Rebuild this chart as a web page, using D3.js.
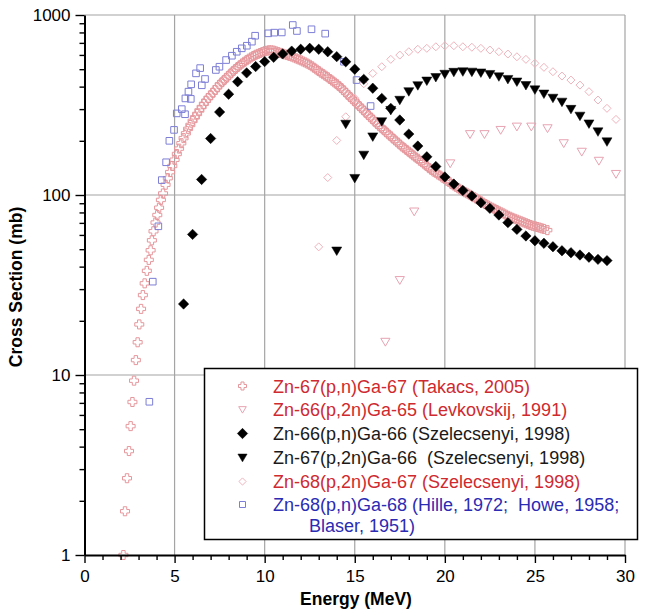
<!DOCTYPE html>
<html><head><meta charset="utf-8">
<script src="https://cdn.jsdelivr.net/npm/d3@7"></script>
<style>body{margin:0;background:#fff}svg{display:block}text{font-family:"Liberation Sans",Arial,Helvetica,sans-serif}</style>
</head><body><svg id="c" width="651" height="616"></svg>
<script>
// ---------- data ----------
const xTicks = [0, 5, 10, 15, 20, 25, 30];
const yTicks = [1, 10, 100, 1000];

// Zn-67(p,n)Ga-67 (Takacs, 2005)
const takacsE = [2.16,2.25,2.36,2.47,2.56,2.66,2.75,2.85,2.95,3.04,3.14,3.24,3.34,3.46,3.57,3.67,3.74,3.83,3.94,4.04,4.14,4.24,4.36,
 4.5,4.625,4.75,4.875,5.0,5.125,5.25,5.375,5.5,5.625,5.75,5.875,6.0,6.125,6.25,6.375,6.5,6.625,6.75,6.875,
 7.0,7.125,7.25,7.375,7.5,7.625,7.75,7.875,8.0,8.125,8.25,8.375,8.5,8.625,8.75,8.875,
 9.0,9.125,9.25,9.375,9.5,9.625,9.75,9.875,10.0,10.125,10.25,10.375,10.5,10.625,10.75,10.875,
 11.0,11.125,11.25,11.375,11.5,11.625,11.75,11.875,12.0,12.125,12.25,12.375,12.5,12.625,12.75,12.875,
 13.0,13.125,13.25,13.375,13.5,13.625,13.75,13.875,14.0,14.125,14.25,14.375,14.5,14.625,14.75,14.875,
 15.0,15.125,15.25,15.375,15.5,15.625,15.75,15.875,16.0,16.125,16.25,16.375,16.5,16.625,16.75,16.875,
 17.0,17.125,17.25,17.375,17.5,17.625,17.75,17.875,18.0,18.125,18.25,18.375,18.5,18.625,18.75,18.875,
 19.0,19.125,19.25,19.375,19.5,19.625,19.75,19.875,20.0,20.125,20.25,20.375,20.5,20.625,20.75,20.875,
 21.0,21.125,21.25,21.375,21.5,21.625,21.75,21.875,22.0,22.125,22.25,22.375,22.5,22.625,22.75,22.875,
 23.0,23.125,23.25,23.375,23.5,23.625,23.75,23.875,24.0,24.125,24.25,24.375,24.5,24.625,24.75,24.875,
 25.0,25.125,25.25,25.375,25.5,25.69];
const takacsV = [1.0,1.75,2.67,3.78,5.2,7.08,9.3,12.1,15.2,19.1,23.3,27.8,32.3,37.9,43.6,49.3,56,62.9,70.3,77.4,85,93.9,102,
 114,124,134,145,157,169,181,194,207,220,233,245,258,270,282,295,308,321,334,346,
 358,370,383,397,411,423,435,448,461,474,488,501,514,526,538,550,
 561,572,582,592,601,608,615,622,629,633,637,636,634,628,622,616,
 610,604,599,593,588,581,574,567,560,552,545,537,529,519,509,498,
 488,478,469,460,451,441,432,422,413,403,393,382,371,360,350,340,
 331,321,312,303,295,286,278,270,263,255,248,241,235,229,223,217,
 212,206,201,196,191,186,182,178,174,170,166,162,159,155,152,148,
 145,141,138,135,133,130,128,125,123,120,118,115,113,111,109,107,
 105,103.5,102,100.5,99,97.2,95.5,93.9,92.3,90.6,89,87.6,86.2,85,83.8,82.5,
 81.2,80.1,79,77.8,76.7,75.7,74.7,73.8,73,72.1,71.3,70.5,69.7,68.9,68.1,67.5,
 67,66.4,65.9,65.3,64.8,63.8];

// Zn-66(p,2n)Ga-65 (Levkovskij, 1991)
const levE = [16.7,17.5,18.3,20.3,21.4,22.2,23.1,24.0,24.8,25.7,26.6,27.6,28.55,29.5];
const levV = [15.3,33.7,81,150,218,218,230,240,240,235,194,174,155,131];

// Zn-66(p,n)Ga-66 (Szelecsenyi, 1998)
const sz66E = [5.5,6,6.5,7,7.5,8,8.5,9,9.5,10,10.5,11,11.5,12,12.5,13,13.5,14,14.5,15,15.5,16,16.5,17,17.5,18,18.5,19,19.5,20,
 20.5,21,21.5,22,22.5,23,23.5,24,24.5,25,25.5,26,26.5,27,27.5,28,28.5,29];
const sz66V = [24.8,60.4,122,206,289,363,426,477,517,551,582,608,630,645,653,645,625,587,550,500,439,392,344,303,261,218,187,163,144,126,
 115,106,98.7,90.6,84.3,77.4,70.2,64.4,59.2,55.7,53.9,51.6,49,47.8,46.4,45.1,43.9,43.2];

// Zn-67(p,2n)Ga-66 (Szelecsenyi, 1998)
const sz67E = [14,14.5,15,15.5,16,16.5,17,17.5,18,18.5,19,19.5,20,20.5,21,21.5,22,22.5,23,23.5,24,24.5,25,25.5,26,26.5,27,27.5,28,28.5,29];
const sz67V = [49,248,124,167,211,256,296,337,376,406,431,451,470,482,485,483,478,469,455,440,426,407,385,365,346,329,300,275,249,225,198];

// Zn-68(p,2n)Ga-67 (Szelecsenyi, 1998)
const sz68E = [13,13.5,14,14.5,15,15.5,16,16.5,17,17.5,18,18.5,19,19.5,20,20.5,21,21.5,22,22.5,23,23.5,24,24.5,25,25.5,26,26.5,27,27.5,28,28.5,29,29.5];
const sz68V = [51.5,125,201,272,345,415,474,516,567,599,625,645,653,666,675,675,666,662,653,639,625,607,586,567,539,512,484,458,435,408,375,337,303,263];

// Zn-68(p,n)Ga-68 (Hille 1972; Howe 1958; Blaser 1951)
const hilleE = [3.6,3.79,4.1,4.29,4.53,4.71,4.97,5.12,5.4,5.58,5.6,5.77,5.9,5.92,6.19,6.42,6.51,6.69,7.29,7.49,7.86,8.18,8.45,8.73,9.01,9.29,9.47,
 10.2,10.53,10.95,11.56,11.79,12.6,13.36,14.4,15.1,15.88];
const hilleV = [7.1,33,67,121,152,200,230,284,300,281,344,375,342,412,474,507,407,441,495,516,562,594,625,653,675,711,767,
 791,798,800,880,815,833,788,550,435,312];

const legendLabels = [
  ["Zn-67(p,n)Ga-67 (Takacs, 2005)"],
  ["Zn-66(p,2n)Ga-65 (Levkovskij, 1991)"],
  ["Zn-66(p,n)Ga-66 (Szelecsenyi, 1998)"],
  ["Zn-67(p,2n)Ga-66  (Szelecsenyi, 1998)"],
  ["Zn-68(p,2n)Ga-67 (Szelecsenyi, 1998)"],
  ["Zn-68(p,n)Ga-68 (Hille, 1972;  Howe, 1958;", "Blaser, 1951)"]
];

// ---------- drawing ----------
const svg = d3.select("#c");
const M = {l: 84.5, r: 625, t: 15, b: 555};
const x = d3.scaleLinear().domain([0, 30]).range([M.l, M.r]);
const y = d3.scaleLog().domain([1, 1000]).range([M.b, M.t]);

svg.append("rect").attr("width", 651).attr("height", 616).attr("fill", "#fff");

// grid
const grid = svg.append("g").attr("stroke", "#a4a4a4").attr("stroke-width", 1.2);
xTicks.filter(d => d > 0).forEach(d => grid.append("line").attr("x1", x(d)).attr("x2", x(d)).attr("y1", y(1000)).attr("y2", y(1)));
yTicks.filter(d => d > 1).forEach(d => grid.append("line").attr("x1", x(0)).attr("x2", x(30)).attr("y1", y(d)).attr("y2", y(d)));

// symbol paths
function cross(r) { const a = r * 0.38; return `M${-a},${-r}H${a}V${-a}H${r}V${a}H${a}V${r}H${-a}V${a}H${-r}V${-a}H${-a}Z`; }
function diamond(r) { return `M0,${-r}L${r},0L0,${r}L${-r},0Z`; }
function triDown(r) { return `M${-r},${-r*0.75}L${r},${-r*0.75}L0,${r*0.95}Z`; }
function square(r) { return `M${-r},${-r}H${r}V${r}H${-r}Z`; }

const series = [
  {E: takacsE, V: takacsV, path: cross(4.5), fill: "none", stroke: "#e6979c", sw: 1},
  {E: hilleE, V: hilleV, path: square(3.3), fill: "none", stroke: "#7d7ed6", sw: 1},
  {E: sz68E, V: sz68V, path: diamond(4), fill: "none", stroke: "#efb3bc", sw: 1},
  {E: levE, V: levV, path: triDown(4.6), fill: "none", stroke: "#e7a3b2", sw: 1},
  {E: sz66E, V: sz66V, path: diamond(5.2), fill: "#000", stroke: "#000", sw: 0.5},
  {E: sz67E, V: sz67V, path: triDown(5), fill: "#000", stroke: "#000", sw: 0.5}
];

series.forEach(s => {
  svg.append("g").selectAll("path").data(s.E.map((e, i) => [e, s.V[i]])).join("path")
    .attr("d", s.path)
    .attr("transform", d => `translate(${x(d[0])},${y(d[1])})`)
    .attr("fill", s.fill).attr("stroke", s.stroke).attr("stroke-width", s.sw);
});

// axes
const minorX = d3.range(0, 31, 1).filter(d => d % 5 !== 0);
const minorY = [2,3,4,5,6,7,8,9,20,30,40,50,60,70,80,90,200,300,400,500,600,700,800,900];

function styleAxis(g) {
  g.select(".domain").attr("stroke", "#000").attr("stroke-width", 2);
  g.selectAll(".tick line").attr("stroke", "#000").attr("stroke-width", 1.4);
  g.selectAll("text").attr("font-size", 17).attr("fill", "#000")
    .attr("font-family", '"Liberation Sans",Arial,sans-serif');
}
svg.append("g").attr("transform", `translate(0,${M.b})`)
  .call(d3.axisBottom(x).tickValues(minorX).tickSize(5).tickFormat("").tickSizeOuter(0))
  .call(g => { g.select(".domain").remove(); g.selectAll(".tick line").attr("stroke", "#000").attr("stroke-width", 1.4); });
svg.append("g").attr("transform", `translate(${M.l},0)`)
  .call(d3.axisLeft(y).tickValues(minorY).tickSize(5).tickFormat("").tickSizeOuter(0))
  .call(g => { g.select(".domain").remove(); g.selectAll(".tick line").attr("stroke", "#000").attr("stroke-width", 1.4); });
svg.append("g").attr("transform", `translate(0,${M.b})`)
  .call(d3.axisBottom(x).tickValues(xTicks).tickSize(8).tickPadding(7).tickSizeOuter(0).tickFormat(d3.format("d")))
  .call(styleAxis);
svg.append("g").attr("transform", `translate(${M.l},0)`)
  .call(d3.axisLeft(y).tickValues(yTicks).tickSize(9).tickPadding(5).tickSizeOuter(0).tickFormat(d3.format("d")))
  .call(styleAxis);

// axis titles
svg.append("text").attr("x", 356).attr("y", 605).attr("text-anchor", "middle")
  .attr("font-size", 17.5).attr("font-weight", "bold").text("Energy (MeV)");
svg.append("text").attr("transform", "translate(22,287) rotate(-90)").attr("text-anchor", "middle")
  .attr("font-size", 17.5).attr("font-weight", "bold").text("Cross Section (mb)");

// legend
const lg = svg.append("g");
lg.append("rect").attr("x", 204.5).attr("y", 368.5).attr("width", 433).attr("height", 171)
  .attr("fill", "#fff").attr("stroke", "#000").attr("stroke-width", 1.5);
const legSym = [
  {path: cross(4), fill: "none", stroke: "#e6979c", sw: 1, color: "#cf2a2f"},
  {path: triDown(3.8), fill: "none", stroke: "#e7a3b2", sw: 1, color: "#cf2a2f"},
  {path: diamond(5.2), fill: "#000", stroke: "#000", sw: 0.5, color: "#1a1a1a"},
  {path: triDown(4.6), fill: "#000", stroke: "#000", sw: 0.5, color: "#1a1a1a"},
  {path: diamond(3.6), fill: "none", stroke: "#efb3bc", sw: 1, color: "#cf2a2f"},
  {path: square(3), fill: "none", stroke: "#7d7ed6", sw: 1, color: "#2b2bb3"}
];
const rowY = [386, 409.5, 433.5, 457.5, 481.5, 504.5];
legSym.forEach((s, i) => {
  lg.append("path").attr("d", s.path).attr("transform", `translate(242.5,${rowY[i]})`)
    .attr("fill", s.fill).attr("stroke", s.stroke).attr("stroke-width", s.sw);
  const t = lg.append("text").attr("font-size", 18).attr("fill", s.color).style("white-space", "pre");
  legendLabels[i].forEach((line, j) => {
    t.append("tspan").attr("x", j === 0 ? 273 : 309).attr("y", rowY[i] + 6.5 + j * 20.5).text(line);
  });
});
</script></body></html>
